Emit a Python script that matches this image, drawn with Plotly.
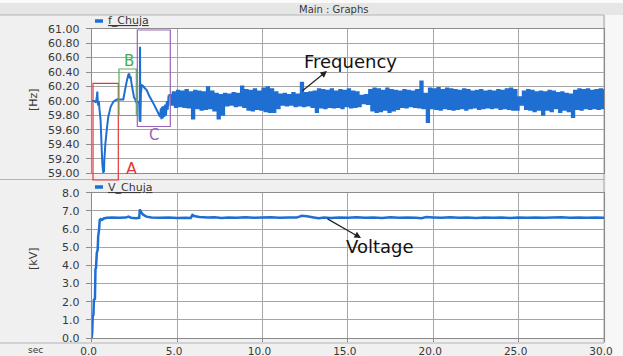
import plotly.graph_objects as go

# ---------------- data ----------------
# Frequency transient, t in seconds, f in Hz
freq_trans_t = [0.00, 0.15, 0.25, 0.30, 0.33, 0.36, 0.39, 0.42, 0.45, 0.52, 0.58, 0.62,
                0.64, 0.66, 0.68, 0.70, 0.72, 0.74, 0.80, 0.85, 0.88, 0.97, 1.05, 1.11,
                1.20, 1.27, 1.46, 1.76, 1.85, 1.95, 2.05, 2.14, 2.20, 2.24, 2.28, 2.32,
                2.40, 2.48, 2.55, 2.62, 2.70, 2.78, 2.81, 2.83, 2.85, 2.88, 2.93, 3.00,
                3.10, 3.22, 3.35, 3.51, 3.65, 3.80, 3.90, 4.00, 4.05, 4.08, 4.12, 4.16,
                4.20, 4.25, 4.30, 4.35, 4.40, 4.45]
freq_trans_v = [60.00, 60.00, 59.98, 60.06, 60.13, 59.96, 59.94, 60.00, 59.90, 59.74, 59.37, 59.15,
                59.09, 59.05, 59.00, 59.08, 59.02, 59.18, 59.41, 59.52, 59.60, 59.78, 59.86, 59.92,
                59.96, 59.99, 60.02, 60.02, 60.02, 60.15, 60.27, 60.36, 60.38, 60.31, 60.34, 60.26,
                60.15, 60.05, 60.02, 59.98, 59.99, 59.97, 59.72, 60.75, 59.71, 60.10, 60.22, 60.21,
                60.18, 60.15, 60.08, 60.01, 59.95, 59.88, 59.83, 59.78, 59.90, 59.75, 59.92, 59.76,
                59.93, 59.78, 59.95, 59.80, 60.00, 59.88]

# Steady-state oscillation band: upper / lower envelope every 0.25 s from 4.5 s to 30 s
band_start = 4.5
band_step = 0.25
band_hi = [60.08, 60.12, 60.14, 60.13, 60.15, 60.12, 60.14, 60.13, 60.12, 60.19,
           60.13, 60.10, 60.08, 60.10, 60.09, 60.11, 60.10, 60.20, 60.15, 60.14,
           60.16, 60.13, 60.17, 60.19, 60.16, 60.12, 60.09, 60.10, 60.08, 60.11,
           60.09, 60.25, 60.11, 60.12, 60.13, 60.16, 60.15, 60.14, 60.16, 60.13,
           60.15, 60.14, 60.16, 60.13, 60.12, 60.07, 60.08, 60.15, 60.17, 60.16,
           60.14, 60.17, 60.15, 60.14, 60.13, 60.15, 60.14, 60.13, 60.15, 60.27,
           60.10, 60.17, 60.16, 60.18, 60.15, 60.17, 60.16, 60.15, 60.14, 60.16,
           60.15, 60.13, 60.14, 60.15, 60.13, 60.14, 60.13, 60.15, 60.14, 60.16,
           60.17, 60.15, 60.05, 60.13, 60.15, 60.14, 60.12, 60.13, 60.12, 60.14,
           60.13, 60.11, 60.12, 60.10, 60.09, 60.14, 60.16, 60.15, 60.16, 60.14,
           60.15, 60.16, 60.15]
band_lo = [59.95, 59.92, 59.93, 59.92, 59.91, 59.76, 59.90, 59.88, 59.89, 59.90,
           59.87, 59.76, 59.81, 59.94, 59.95, 59.93, 59.94, 59.92, 59.88, 59.87,
           59.89, 59.88, 59.86, 59.85, 59.85, 59.90, 59.95, 59.94, 59.95, 59.93,
           59.94, 59.93, 59.94, 59.92, 59.85, 59.91, 59.90, 59.92, 59.91, 59.92,
           59.90, 59.93, 59.91, 59.92, 59.93, 59.97, 59.96, 59.87, 59.85, 59.86,
           59.88, 59.85, 59.87, 59.89, 59.92, 59.91, 59.93, 59.92, 59.91, 59.90,
           59.71, 59.90, 59.89, 59.88, 59.90, 59.89, 59.88, 59.89, 59.90, 59.88,
           59.90, 59.91, 59.89, 59.90, 59.91, 59.90, 59.91, 59.89, 59.90, 59.89,
           59.88, 59.88, 59.95, 59.89, 59.88, 59.86, 59.88, 59.81, 59.88, 59.86,
           59.90, 59.85, 59.88, 59.86, 59.78, 59.89, 59.88, 59.90, 59.89, 59.90,
           59.89, 59.90, 59.89]

# Voltage, t in seconds, V in kV
volt_t = [0.00, 0.03, 0.06, 0.10, 0.13, 0.19, 0.22, 0.25, 0.30, 0.35, 0.38, 0.43,
          0.47, 0.52, 0.60, 0.70, 0.90, 1.20, 1.60, 2.00, 2.15, 2.30, 2.60, 2.78,
          2.82, 2.88, 3.00, 3.20, 3.50, 4.00, 4.50, 5.00, 5.50, 5.80, 5.90, 6.00,
          6.30, 6.80, 7.20, 7.60, 8.00, 8.50, 9.00, 9.50, 10.00, 10.50, 11.00, 11.50,
          12.00, 12.30, 12.60, 13.00, 13.30, 13.60, 14.00, 14.50, 15.00, 15.50, 16.00,
          16.50, 17.00, 17.50, 18.00, 18.50, 19.00, 19.30, 19.60, 20.00, 20.50, 21.00,
          21.50, 22.00, 22.50, 23.00, 23.50, 24.00, 24.50, 25.00, 25.50, 26.00, 26.50,
          27.00, 27.50, 28.00, 28.50, 29.00, 29.50, 30.00]
volt_v = [0.00, 0.30, 1.20, 1.27, 2.10, 2.15, 3.80, 3.85, 4.70, 4.85, 5.60, 5.95,
          6.50, 6.55, 6.50, 6.58, 6.62, 6.64, 6.62, 6.63, 6.68, 6.62, 6.60, 6.62,
          7.08, 6.95, 6.80, 6.68, 6.63, 6.62, 6.63, 6.61, 6.62, 6.61, 6.77, 6.72,
          6.66, 6.63, 6.65, 6.61, 6.64, 6.62, 6.65, 6.62, 6.63, 6.65, 6.62, 6.64,
          6.63, 6.73, 6.70, 6.64, 6.60, 6.63, 6.61, 6.64, 6.62, 6.65, 6.62,
          6.63, 6.61, 6.65, 6.62, 6.64, 6.62, 6.60, 6.66, 6.64, 6.62, 6.65,
          6.62, 6.63, 6.61, 6.64, 6.62, 6.63, 6.61, 6.63, 6.62, 6.64, 6.62,
          6.63, 6.65, 6.62, 6.64, 6.62, 6.63, 6.62]

x_ticks = [0, 5, 10, 15, 20, 25, 30]

# ---------------- build frequency series ----------------
band_t, band_v = [], []
for i, (hi, lo) in enumerate(zip(band_hi, band_lo)):
    t = band_start + band_step * i
    band_t += [t, t + band_step / 2]
    band_v += [hi, lo]

# ---------------- layout helpers ----------------
W, H = 623, 356
def px(x):
    return x / W
def py(y):
    return 1 - y / H

BLUE = "#1f6fd2"
GRID = "#a6a6a6"
BORDER = "#8c8c8c"
TXT = "#383838"
FONT = "DejaVu Sans"

fig = go.Figure()
fig.add_trace(go.Scatter(x=freq_trans_t + [band_t[0]], y=freq_trans_v + [band_v[0]], mode="lines",
                         line=dict(color=BLUE, width=2, simplify=False), xaxis="x", yaxis="y",
                         showlegend=False, hoverinfo="skip"))
fig.add_trace(go.Scatter(x=band_t, y=band_v, mode="lines",
                         line=dict(color=BLUE, width=2.2, shape="hv", simplify=False),
                         xaxis="x", yaxis="y", showlegend=False, hoverinfo="skip"))
fig.add_trace(go.Scatter(x=volt_t, y=volt_v, mode="lines",
                         line=dict(color=BLUE, width=2.5, simplify=False), xaxis="x2", yaxis="y2",
                         showlegend=False, hoverinfo="skip"))

xdom = [px(91.7), px(604)]
common_x = dict(domain=xdom, range=[0, 30], tickvals=x_ticks, showgrid=True,
                gridcolor=GRID, gridwidth=1, showline=True, mirror=True,
                linecolor=BORDER, linewidth=1, zeroline=False, fixedrange=True,
                automargin=False)
common_y = dict(ticks="outside", ticklen=5, tickcolor=BORDER, showgrid=True,
                gridcolor=GRID, showline=True, mirror=True, linecolor=BORDER,
                zeroline=False, automargin=False, fixedrange=True, ticklabelstandoff=4,
                tickfont=dict(size=11, color=TXT))
fig.update_layout(
    width=W, height=H, autosize=False,
    margin=dict(l=0, r=0, t=0, b=0, pad=0),
    paper_bgcolor="#f0f0f0", plot_bgcolor="white",
    font=dict(family=FONT, size=10, color=TXT),
    xaxis=dict(anchor="y", showticklabels=False, ticks="", **common_x),
    yaxis=dict(anchor="x", domain=[py(173.3), py(28.7)], range=[59, 61],
               tick0=59, dtick=0.2, tickformat=".2f", **common_y),
    xaxis2=dict(anchor="y2", showticklabels=True, tickformat=".1f", ticks="outside",
                ticklen=3, tickcolor=BORDER, ticklabelshift=-3,
                tickfont=dict(size=10.5, color=TXT), **common_x),
    yaxis2=dict(anchor="x2", domain=[py(338), py(192.7)], range=[0, 8],
                tick0=0, dtick=1, tickformat=".1f", **common_y),
)

shapes = []
# window chrome
shapes.append(dict(type="rect", xref="paper", yref="paper", x0=0, x1=1, y0=py(3), y1=1,
                   fillcolor="#fafafa", line=dict(width=0), layer="below"))
shapes.append(dict(type="rect", xref="paper", yref="paper", x0=0, x1=1, y0=py(15), y1=py(3),
                   fillcolor="#e6e6e6", line=dict(width=0), layer="below"))
shapes.append(dict(type="rect", xref="paper", yref="paper", x0=px(606), x1=1, y0=0, y1=py(15),
                   fillcolor="#f7f7f7", line=dict(width=0), layer="below"))
for yy in [15, 179.5, 343]:
    shapes.append(dict(type="line", xref="paper", yref="paper", x0=0, x1=px(604),
                       y0=py(yy), y1=py(yy), line=dict(color="#b4b4b4", width=1), layer="below"))
shapes.append(dict(type="line", xref="paper", yref="paper", x0=px(604), x1=px(604),
                   y0=py(343), y1=py(15), line=dict(color="#a0a0a0", width=1), layer="below"))
# legend marks
for yy in [21, 187]:
    shapes.append(dict(type="line", xref="paper", yref="paper", x0=px(95), x1=px(103),
                       y0=py(yy), y1=py(yy), line=dict(color=BLUE, width=3.5)))
# highlight boxes A, B, C
boxes = [((93, 118.3, 83.3, 180), "#e0383c"),
         ((119, 136.3, 69, 115.5), "#55b35a"),
         ((137.3, 170.3, 30, 126.5), "#9a63b8")]
for (x0, x1, y0, y1), col in boxes:
    shapes.append(dict(type="rect", xref="paper", yref="paper", x0=px(x0), x1=px(x1),
                       y0=py(y1), y1=py(y0), line=dict(color=col, width=1.2)))
fig.update_layout(shapes=shapes)

ann = []
def label(x, y, text, size=10, color=TXT, xanchor="center", angle=0):
    ann.append(dict(xref="paper", yref="paper", x=px(x), y=py(y), text=text,
                    showarrow=False, xanchor=xanchor, yanchor="middle",
                    textangle=angle, font=dict(family=FONT, size=size, color=color)))

label(333, 9, "Main : Graphs", size=10)
label(106, 21, "<u>f_Chuja</u>", size=11, xanchor="left")
label(106, 187, "<u>V_Chuja</u>", size=11, xanchor="left")
label(33, 100, "[Hz]", size=11, angle=-90)
label(33, 259, "[kV]", size=11, angle=-90)
label(35, 350, "sec", size=9)
label(131.5, 168, "A", size=16, color="#e0383c")
label(129, 61, "B", size=15, color="#45ad4b")
label(154, 134.5, "C", size=15, color="#9a63b8")
label(350, 62, "Frequency", size=18, color="#111111")
label(380, 246, "Voltage", size=18, color="#111111")

# arrows (head at the text end)
for (hx, hy, tx, ty) in [(327, 71, 301, 92), (361, 238, 326, 218)]:
    ann.append(dict(xref="paper", yref="paper", x=px(hx), y=py(hy), ax=tx - hx, ay=ty - hy,
                    axref="pixel", ayref="pixel", text="", showarrow=True,
                    arrowhead=2, arrowsize=1.1, arrowwidth=1.2, arrowcolor="#222222"))
fig.update_layout(annotations=ann)

fig.write_html("out.html", config={"displayModeBar": False, "staticPlot": True},
               post_script="document.body.style.margin='0';document.body.style.overflow='hidden';")
